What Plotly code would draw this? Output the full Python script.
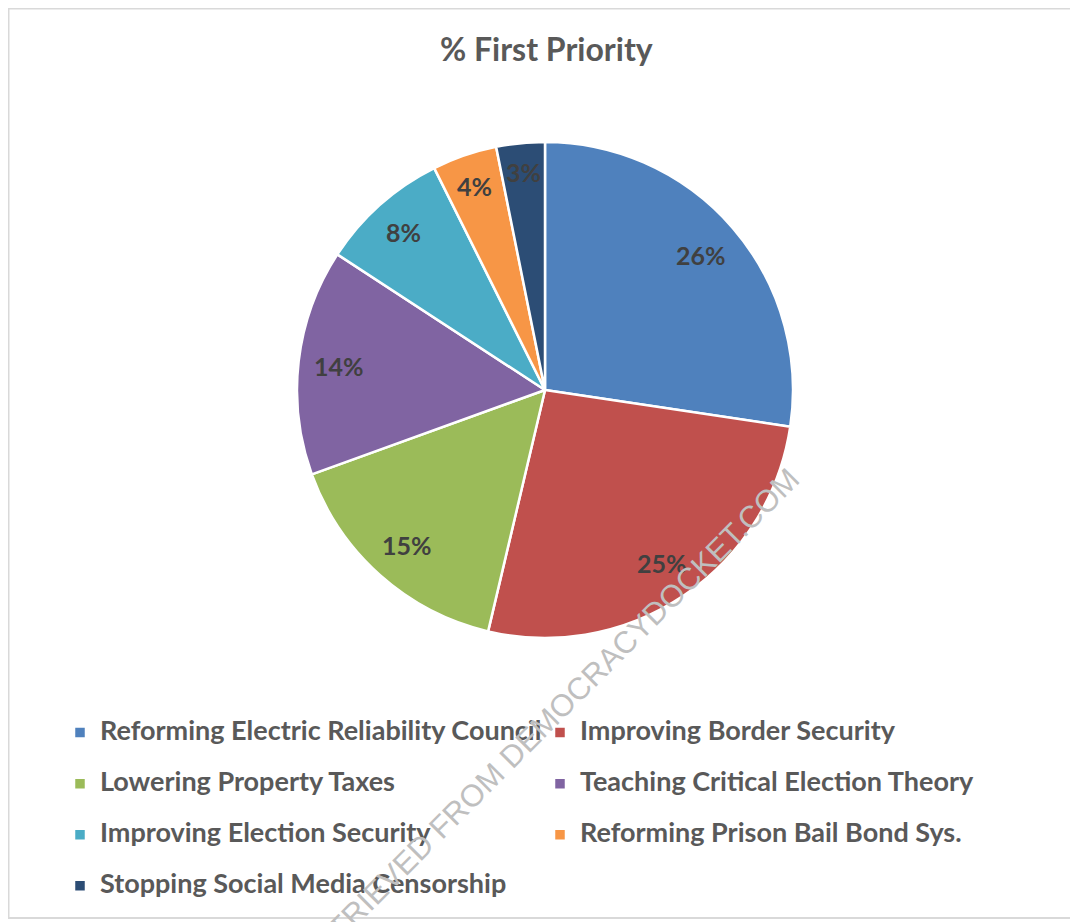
import math
import plotly.graph_objects as go

categories = [
    "Reforming Electric Reliability Council",
    "Improving Border Security",
    "Lowering Property Taxes",
    "Teaching Critical Election Theory",
    "Improving Election Security",
    "Reforming Prison Bail Bond Sys.",
    "Stopping Social Media Censorship",
]
values = [26, 25, 15, 14, 8, 4, 3]
colors = ["#4F81BD", "#C0504D", "#9BBB59", "#8064A2", "#4BACC6", "#F79646", "#2C4D75"]

# page is offset by the browser's 8px body margin
W, H = 1070, 922
FONT = "Lato"

# pie domain in pixels
PX0, PX1, PY0, PY1 = 289, 785, 134, 630
cx, cy = (PX0 + PX1) / 2, (PY0 + PY1) / 2
R = min(PX1 - PX0, PY1 - PY0) / 2

legend_names = [f"<span style='font-size:27px'>{c}</span><br> " for c in categories]

fig = go.Figure(
    go.Pie(
        labels=legend_names,
        values=values,
        sort=False,
        direction="clockwise",
        rotation=0,
        marker=dict(colors=colors, line=dict(color="white", width=2.5)),
        textinfo="none",
        hoverinfo="skip",
        domain=dict(x=[PX0 / W, PX1 / W], y=[1 - PY1 / H, 1 - PY0 / H]),
    )
)

# data labels placed near the outer edge of each slice (Excel style)
annotations = []
total = sum(values)
cum = 0
for v in values:
    mid = (cum + v / 2) / total * 2 * math.pi
    cum += v
    txt = f"{v}%"
    bw = 14 * len(str(v)) + 22
    bh = 24
    ext = abs(math.sin(mid)) * bw / 2 + abs(math.cos(mid)) * bh / 2
    d = R * 0.94 - ext
    px = cx + d * math.sin(mid)
    py = cy - d * math.cos(mid)
    annotations.append(dict(
        text=f"<b>{txt}</b>", x=px / W, y=1 - py / H, xref="paper", yref="paper",
        showarrow=False, xanchor="center", yanchor="middle",
        font=dict(family=FONT, size=25, color="#404040"),
    ))

annotations += [
    dict(
        text="<b>% First Priority</b>",
        x=538 / W, y=1 - 40 / H, xref="paper", yref="paper",
        showarrow=False, xanchor="center", yanchor="middle",
        font=dict(family=FONT, size=32, color="#595959"),
    ),
    dict(
        text="RETRIEVED FROM DEMOCRACYDOCKET.COM",
        x=540 / W, y=1 - 711 / H, xref="paper", yref="paper",
        showarrow=False, xanchor="center", yanchor="middle",
        textangle=-45,
        font=dict(family="Liberation Sans", size=31, color="#BFBFBF"),
    ),
]

fig.update_layout(
    width=W,
    height=H,
    margin=dict(l=0, r=0, t=0, b=0),
    paper_bgcolor="white",
    plot_bgcolor="white",
    font=dict(family=FONT),
    showlegend=True,
    legend=dict(
        orientation="h",
        x=52 / W,
        y=1 - 706 / H,
        xanchor="left",
        yanchor="top",
        entrywidth=435,
        valign="top",
        bgcolor="rgba(0,0,0,0)",
        font=dict(family=FONT, size=18.5, color="#595959", weight="bold"),
        traceorder="normal",
    ),
    annotations=annotations,
    shapes=[
        dict(
            type="rect", xref="paper", yref="paper",
            x0=0.5 / W, x1=1.02, y0=1 - 910 / H, y1=1 - 0.5 / H,
            line=dict(color="#D9D9D9", width=2),
            fillcolor="rgba(0,0,0,0)", layer="below",
        )
    ],
)

fig.write_html("out.html")
